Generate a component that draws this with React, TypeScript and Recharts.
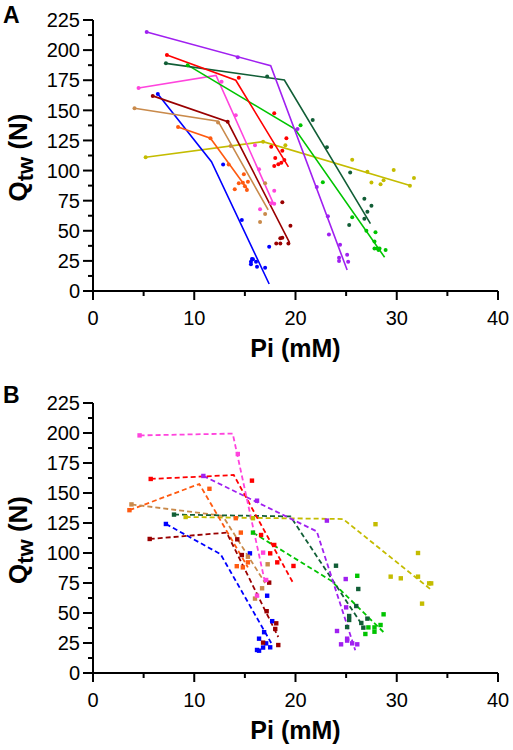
import { ComposedChart, Line, Scatter, XAxis, YAxis } from 'recharts';

// ---- panel A: solid two-segment fits, round markers ----
const purpleA_fit = [[5.3, 215], [17.55, 187], [25.1, 17.4]];
const purpleA_pts = [[5.3, 215], [14.3, 194], [20.2, 134.5], [22.1, 86.3], [23.2, 62], [23.3, 47], [24.4, 38.5], [24.3, 27.7], [24.3, 25], [25.1, 30], [25.2, 24.3]];
const redA_fit = [[7.3, 196], [14.1, 175], [19.3, 103]];
const redA_pts = [[7.3, 196], [14.4, 177], [17.9, 147.5], [19.1, 126.8], [17.6, 119.8], [18.7, 116.5], [18.0, 110.4], [18.9, 108.8], [18.3, 105.2], [17.9, 103.8], [18.6, 106.5]];
const dkGreenA_fit = [[7.2, 189], [18.9, 175.2], [27.4, 56]];
const dkGreenA_pts = [[7.2, 189], [17.2, 178], [21.7, 142], [23.1, 119.3], [25.4, 98.3], [26.8, 76.6], [27.5, 70.8], [27.1, 65.9], [26.8, 60], [25.3, 54.8]];
const greenA_fit = [[9.35, 187.5], [19.95, 134.5], [28.8, 28]];
const greenA_pts = [[9.35, 187.5], [20.5, 137.6], [22.7, 90.2], [25.6, 61.2], [27.0, 50], [27.9, 48.7], [27.8, 41], [27.8, 35.2], [28.1, 35.2], [28.3, 35.2], [28.9, 34], [28.2, 34]];
const pinkA_fit = [[4.5, 168.5], [12.15, 179], [17.8, 73]];
const pinkA_pts = [[4.5, 168.5], [12.7, 173.8], [14.1, 146], [16.0, 121], [16.4, 101], [17.9, 83.3], [17.6, 72.8], [17.9, 72.5], [16.5, 67.8]];
const maroonA_fit = [[5.9, 162], [13.3, 140.5], [19.4, 40.4]];
const maroonA_pts = [[5.9, 162], [13.3, 140.5], [18.7, 73.6], [19.5, 54.2], [18.7, 44.3], [18.5, 43.8], [18.1, 39.5], [18.5, 39.5], [19.3, 39.5]];
const tanA_fit = [[4.1, 151.7], [12.35, 141], [17.3, 67.3]];
const tanA_pts = [[4.1, 151.7], [12.35, 140], [13.6, 120.4], [17.0, 89.4], [17.0, 64], [16.5, 57.3]];
const orangeA_fit = [[8.4, 136.2], [11.6, 126.8], [15.3, 84]];
const orangeA_pts = [[8.4, 136.2], [11.6, 126.8], [13.4, 105], [14.9, 97], [14.4, 89.4], [14.8, 89.9], [15.3, 90.8], [14.0, 84.4], [15.2, 83.9], [15.0, 87]];
const blueA_fit = [[6.4, 163.6], [11.7, 107.4], [17.4, 5.8]];
const blueA_pts = [[6.4, 163.6], [12.85, 105], [14.7, 59], [17.4, 36.8], [15.7, 26.6], [15.6, 24.3], [15.6, 22.2], [16.1, 24.3], [16.2, 20.2], [17.0, 19.4], [15.8, 26.3]];
const oliveA_fit = [[5.2, 111], [16.8, 124], [31.4, 87.4]];
const oliveA_pts = [[5.2, 111], [16.8, 124], [19.0, 121], [25.6, 109], [27.1, 99], [29.7, 100.5], [27.5, 90], [28.4, 88.6], [28.7, 91.9], [31.3, 87.4], [31.7, 93.8]];

// ---- panel B: dashed two-segment fits, square markers ----
const pinkB_fit = [[4.6, 198], [13.8, 199.5], [17.0, 75]];
const pinkB_pts = [[4.6, 198], [14.3, 182.5], [16.8, 100.3], [17.1, 77.5], [16.2, 64.5]];
const redB_fit = [[5.7, 161.7], [13.9, 165], [19.7, 76]];
const redB_pts = [[5.7, 161.7], [15.7, 160.3], [16.6, 115], [17.5, 99.7], [18.2, 92.2], [19.8, 89.2], [17.9, 106.7]];
const purpleB_fit = [[10.9, 164.2], [22.1, 118], [25.9, 19]];
const purpleB_pts = [[10.9, 164.2], [16.2, 143.6], [23.1, 127], [24.96, 78.3], [25.0, 54.7], [24.1, 35], [25.1, 28.6], [25.1, 27], [25.6, 24.7], [26.1, 23.9], [24.5, 23.9]];
const dkGreenB_fit = [[8.0, 132], [19.5, 130.5], [26.7, 38.5]];
const dkGreenB_pts = [[8.0, 132], [24.0, 89.4], [26.2, 70], [26.0, 55.8], [25.3, 47.5], [25.3, 44.2], [25.1, 38.3], [26.5, 41.7], [26.7, 37.8], [27.1, 45.3]];
const greenB_fit = [[15.8, 117], [23.5, 77], [28.7, 34]];
const greenB_pts = [[15.8, 117], [26.1, 81], [28.7, 48.9], [28.4, 40], [27.8, 38], [27.2, 38], [27.8, 34.4], [26.9, 32.5]];
const oliveB_fit = [[9.15, 130], [24.7, 128.3], [33.3, 70]];
const oliveB_pts = [[9.15, 130], [15.8, 129], [27.9, 124], [32.1, 100], [29.4, 80.3], [30.4, 78.9], [32.1, 80.3], [33.2, 74.7], [33.4, 74.7], [32.5, 57.8]];
const tanB_fit = [[3.8, 140.5], [12.8, 131], [17.0, 75]];
const tanB_pts = [[3.8, 140.5], [15.3, 96.9], [17.25, 90.6], [16.7, 70.6], [16.0, 62]];
const orangeB_fit = [[3.6, 135.7], [10.5, 157.5], [15.3, 88]];
const orangeB_pts = [[3.6, 135.7], [11.5, 153.5], [14.1, 129], [14.6, 117], [14.2, 89], [14.8, 88], [15.3, 92.2]];
const maroonB_fit = [[5.6, 111.7], [13.2, 117], [18.3, 30]];
const maroonB_pts = [[5.6, 111.7], [14.25, 111.4], [14.7, 98.3], [17.4, 75.3], [17.15, 51.5], [18.1, 41.4], [18.0, 36.7], [18.3, 23.3], [16.8, 25.3]];
const blueB_fit = [[7.2, 124.2], [12.6, 99], [17.6, 25]];
const blueB_pts = [[7.2, 124.2], [15.5, 99.7], [17.2, 64.4], [17.7, 43.2], [16.9, 34], [16.4, 28.6], [17.1, 24.7], [17.5, 21.4], [16.8, 21.2], [16.2, 19.2], [16.4, 18.6]];

const xTicks = [0, 5, 10, 15, 20, 25, 30, 35, 40];
const yTicks = [0, 12.5, 25, 37.5, 50, 62.5, 75, 87.5, 100, 112.5, 125, 137.5, 150, 162.5, 175, 187.5, 200, 212.5, 225];

const C = {
  purple: '#a020f0', red: '#ff0000', dkGreen: '#115e36', green: '#00c400', pink: '#ff44dd',
  maroon: '#990000', tan: '#c98a4b', orange: '#ff5a10', blue: '#0000ff', olive: '#c4bc00',
};

const seriesA = [
  { c: C.olive, fit: oliveA_fit, pts: oliveA_pts },
  { c: C.blue, fit: blueA_fit, pts: blueA_pts },
  { c: C.orange, fit: orangeA_fit, pts: orangeA_pts },
  { c: C.tan, fit: tanA_fit, pts: tanA_pts },
  { c: C.maroon, fit: maroonA_fit, pts: maroonA_pts },
  { c: C.pink, fit: pinkA_fit, pts: pinkA_pts },
  { c: C.green, fit: greenA_fit, pts: greenA_pts },
  { c: C.dkGreen, fit: dkGreenA_fit, pts: dkGreenA_pts },
  { c: C.red, fit: redA_fit, pts: redA_pts },
  { c: C.purple, fit: purpleA_fit, pts: purpleA_pts },
];
const seriesB = [
  { c: C.olive, fit: oliveB_fit, pts: oliveB_pts },
  { c: C.blue, fit: blueB_fit, pts: blueB_pts },
  { c: C.orange, fit: orangeB_fit, pts: orangeB_pts },
  { c: C.tan, fit: tanB_fit, pts: tanB_pts },
  { c: C.maroon, fit: maroonB_fit, pts: maroonB_pts },
  { c: C.green, fit: greenB_fit, pts: greenB_pts },
  { c: C.dkGreen, fit: dkGreenB_fit, pts: dkGreenB_pts },
  { c: C.purple, fit: purpleB_fit, pts: purpleB_pts },
  { c: C.red, fit: redB_fit, pts: redB_pts },
  { c: C.pink, fit: pinkB_fit, pts: pinkB_pts },
];

const FONT = '"Liberation Sans", Arial, Helvetica, sans-serif';
const toXY = (arr: number[][]) => arr.map(([x, y]) => ({ x, y }));

const YTick = (props: any) => {
  const { x, y, payload } = props;
  const major = payload.value % 25 === 0;
  return (
    <g>
      <line x1={x} x2={x - (major ? 10 : 5)} y1={y} y2={y} stroke="#000" strokeWidth={2} />
      {major && (
        <text x={x - 13} y={y} dy="0.36em" textAnchor="end" fontSize={20} fontFamily={FONT} fill="#000">
          {payload.value}
        </text>
      )}
    </g>
  );
};

const XTick = (props: any) => {
  const { x, y, payload } = props;
  const major = payload.value % 10 === 0;
  return (
    <g>
      <line x1={x} x2={x} y1={y} y2={y + (major ? 9 : 5)} stroke="#000" strokeWidth={2} />
      {major && (
        <text x={x} y={y + 27} dy="0.36em" textAnchor="middle" fontSize={20} fontFamily={FONT} fill="#000">
          {payload.value}
        </text>
      )}
    </g>
  );
};

const XTitle = (props: any) => {
  const vb = props.viewBox;
  return (
    <text x={vb.x + vb.width / 2} y={vb.y + 66} textAnchor="middle" fontSize={25} fontWeight="bold" fontFamily={FONT} fill="#000">
      Pi (mM)
    </text>
  );
};

const YTitle = (props: any) => {
  const vb = props.viewBox;
  const cx = vb.x + 27;
  const cy = vb.y + vb.height / 2 + 2;
  return (
    <text x={cx} y={cy} transform={`rotate(-90, ${cx}, ${cy})`} textAnchor="middle" fontSize={26} fontWeight="bold" fontFamily={FONT} fill="#000">
      <tspan>Q</tspan>
      <tspan dy={6} fontSize={22}>tw</tspan>
      <tspan dy={-6}> (N)</tspan>
    </text>
  );
};

function Panel({ series, dashed, top, marginTop, marginBottom }: any) {
  return (
    <div style={{ position: 'absolute', left: 0, top }}>
      <ComposedChart width={513} height={375} margin={{ top: marginTop, right: 15, bottom: marginBottom, left: 0 }}>
        <XAxis
          type="number"
          dataKey="x"
          domain={[0, 40]}
          ticks={xTicks}
          interval={0}
          allowDataOverflow
          height={60}
          tickSize={0}
          tickMargin={0}
          tickLine={false}
          axisLine={{ stroke: '#000', strokeWidth: 2 }}
          tick={<XTick />}
          label={{ content: <XTitle /> }}
        />
        <YAxis
          type="number"
          dataKey="y"
          domain={[0, 225]}
          ticks={yTicks}
          interval={0}
          allowDataOverflow
          width={93}
          tickSize={0}
          tickMargin={0}
          tickLine={false}
          axisLine={{ stroke: '#000', strokeWidth: 2 }}
          tick={<YTick />}
          label={{ content: <YTitle /> }}
        />
        {series.map((s: any, i: number) => (
          <Line
            key={'l' + i}
            data={toXY(s.fit)}
            dataKey="y"
            type="linear"
            stroke={s.c}
            strokeWidth={dashed ? 1.8 : 1.6}
            strokeDasharray={dashed ? '5 3' : undefined}
            dot={false}
            activeDot={false}
            isAnimationActive={false}
          />
        ))}
        {series.map((s: any, i: number) => (
          <Scatter
            key={'s' + i}
            data={toXY(s.pts)}
            dataKey="y"
            fill={s.c}
            isAnimationActive={false}
            shape={(p: any) =>
              dashed ? (
                <rect x={p.cx - 2.2} y={p.cy - 2.2} width={4.4} height={4.4} fill={s.c} />
              ) : (
                <circle cx={p.cx} cy={p.cy} r={2} fill={s.c} />
              )
            }
          />
        ))}
      </ComposedChart>
    </div>
  );
}

export default function App() {
  return (
    <div style={{ position: 'absolute', left: 0, top: 0, width: 513, height: 750, background: '#fff', fontFamily: FONT }}>
      <Panel series={seriesA} dashed={false} top={0} marginTop={20} marginBottom={24} />
      <Panel series={seriesB} dashed top={375} marginTop={28} marginBottom={17} />
      <div style={{ position: 'absolute', left: 3, top: 2, fontSize: 23, fontWeight: 'bold' }}>A</div>
      <div style={{ position: 'absolute', left: 3, top: 382, fontSize: 23, fontWeight: 'bold' }}>B</div>
    </div>
  );
}
